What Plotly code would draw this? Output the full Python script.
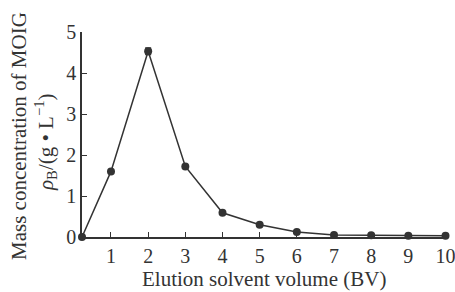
import plotly.graph_objects as go

x_vals = [0.22, 1, 2, 3, 4, 5, 6, 7, 8, 9, 10]
y_vals = [0.0, 1.6, 4.53, 1.72, 0.59, 0.3, 0.12, 0.05, 0.04, 0.03, 0.03]
y_err = [0, 0, 0.08, 0, 0, 0, 0, 0, 0, 0, 0]
x_ticks = [1, 2, 3, 4, 5, 6, 7, 8, 9, 10]
y_ticks = [0, 1, 2, 3, 4, 5]

C = "#333333"
fig = go.Figure()
fig.add_trace(go.Scatter(
    x=x_vals, y=y_vals, mode="lines+markers",
    line=dict(color=C, width=1.5),
    marker=dict(color=C, size=8),
    error_y=dict(type="data", array=y_err, color=C, thickness=1.4, width=3),
    cliponaxis=False,
))
font = dict(family="Liberation Serif", size=20, color=C)
tfont = dict(family="Liberation Serif", size=21, color=C)
fig.update_layout(
    width=455, height=292,
    margin=dict(l=82, r=8, t=32, b=55, autoexpand=False),
    paper_bgcolor="white", plot_bgcolor="white",
    showlegend=False,
    font=font,
)
fig.update_xaxes(
    range=[0.22, 10.04], tickvals=x_ticks, ticks="inside", ticklen=5,
    tickcolor=C, showline=True, linecolor=C, linewidth=1.5,
    showgrid=False, zeroline=False, tickfont=font, automargin=False,
    ticklabeloverflow="allow",
)
fig.update_yaxes(
    range=[0, 5], tickvals=y_ticks, ticks="inside", ticklen=5,
    tickcolor=C, showline=True, linecolor=C, linewidth=1.5,
    showgrid=False, zeroline=False, tickfont=font, automargin=False,
    ticklabeloverflow="allow",
)
fig.add_annotation(
    text="Elution solvent volume (BV)", xref="paper", yref="paper",
    x=(264 - 82) / 365, y=-(279 - 237) / 205, xanchor="center", yanchor="middle",
    showarrow=False, font=tfont,
)
fig.add_annotation(
    text="Mass concentration of MOIG", xref="paper", yref="paper",
    x=-(82 - 19) / 365, y=(237 - 136) / 205, xanchor="center", yanchor="middle",
    textangle=-90, showarrow=False, font=tfont,
)
fig.add_annotation(
    text="<i>ρ</i><sub>B</sub>/(g • L<sup>−1</sup>)", xref="paper", yref="paper",
    x=-(82 - 45) / 365, y=(237 - 142) / 205, xanchor="center", yanchor="middle",
    textangle=-90, showarrow=False, font=tfont,
)
fig.write_html(
    "out.html",
    config={"displayModeBar": False},
    post_script="document.body.style.margin='0';document.body.style.overflow='hidden';",
)
